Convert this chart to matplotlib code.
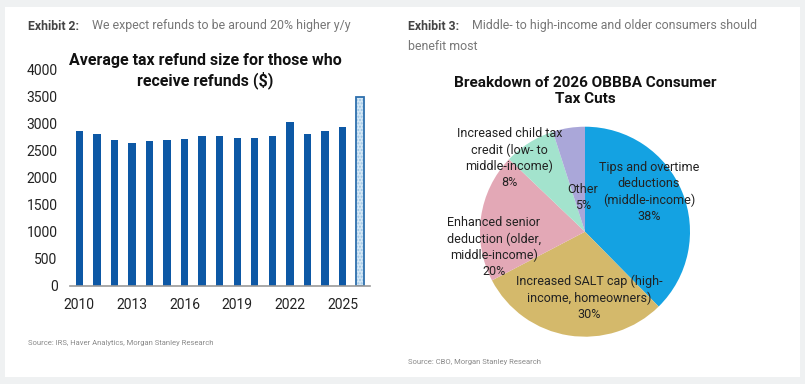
import matplotlib
matplotlib.use('Agg')
import matplotlib.pyplot as plt
from matplotlib.patches import Rectangle

# data
years = list(range(2010, 2027))
refunds = [2866, 2798, 2693, 2645, 2681, 2687, 2718, 2761, 2767, 2730, 2730, 2767, 3032, 2798, 2860, 2927, 3494]
year_ticks = [2010, 2013, 2016, 2019, 2022, 2025]
y_ticks = [0, 500, 1000, 1500, 2000, 2500, 3000, 3500, 4000]

pie_labels = ['Tips and overtime\ndeductions\n(middle-income)\n38%',
              'Increased SALT cap (high-\nincome, homeowners)\n30%',
              'Enhanced senior\ndeduction (older,\nmiddle-income)\n20%',
              'Increased child tax\ncredit (low- to\nmiddle-income)\n8%',
              'Other\n5%']
pie_shares = [38, 30, 20, 8, 5]
pie_colors = ['#14a2e2', '#d4b96b', '#e3a8b6', '#a3e3cd', '#aaa7d9']
label_pos = [(0.61, 0.38), (0.04, -0.63), (-0.87, -0.15), (-0.72, 0.70), (-0.02, 0.33)]

cond = ['Liberation Sans Narrow', 'Roboto', 'DejaVu Sans']
plain = ['Roboto', 'DejaVu Sans']

W, H = 805, 384
fig = plt.figure(figsize=(W / 100, H / 100), dpi=100)
fig.patch.set_facecolor('#eff1f2')
fig.patches.append(Rectangle((5 / W, 7 / H), 795 / W, 370 / H, transform=fig.transFigure,
                             facecolor='white', edgecolor='none', zorder=-5))

def px(x, y):
    return x / W, 1 - y / H

# headers
fig.text(*px(28, 26), 'Exhibit 2:', family=plain, weight='bold', fontsize=8.8, color='#444444', va='center')
fig.text(*px(92, 26), 'We expect refunds to be around 20% higher y/y', family=plain, fontsize=8.9,
         color='#777777', va='center')
fig.text(*px(408, 26), 'Exhibit 3:', family=plain, weight='bold', fontsize=8.8, color='#444444', va='center')
fig.text(*px(472, 26), 'Middle- to high-income and older consumers should', family=plain, fontsize=8.9,
         color='#777777', va='center')
fig.text(*px(408, 46), 'benefit most', family=plain, fontsize=8.9, color='#777777', va='center')
fig.text(*px(28, 343), 'Source: IRS, Haver Analytics, Morgan Stanley Research', family=cond, fontsize=5.5,
         color='#8a8a8a', va='center')
fig.text(*px(408, 362), 'Source: CBO, Morgan Stanley Research', family=cond, fontsize=5.5,
         color='#8a8a8a', va='center')

# bar chart
ax = fig.add_axes([70 / W, 1 - 285.7 / H, 300 / W, 216.4 / H])
ax.set_facecolor('none')
ax.bar(years[:-1], refunds[:-1], width=0.42, color='#0d58a5', zorder=2)
# forecast bar: light dotted fill with dark outline
ax.bar(years[-1:], refunds[-1:], width=0.42, color='#d4e7f5', edgecolor='#9cc6e6', hatch='.....',
       linewidth=0, zorder=2)
ax.bar(years[-1:], refunds[-1:], width=0.42, fill=False, edgecolor='#2d6fad', linewidth=1.3, zorder=3)
ax.set_xlim(2009.47, 2026.57)
ax.set_ylim(0, 4000)
ax.set_yticks(y_ticks)
ax.set_xticks(year_ticks)
for s in ['top', 'right', 'left']:
    ax.spines[s].set_visible(False)
ax.spines['bottom'].set_color('#9a9a9a')
ax.spines['bottom'].set_linewidth(1.2)
ax.spines['bottom'].set_zorder(4)
ax.tick_params(length=0, labelsize=10, colors='#222222')
ax.tick_params(axis='x', pad=9)
ax.tick_params(axis='y', pad=9)
for lbl in ax.get_xticklabels() + ax.get_yticklabels():
    lbl.set_family(cond)
fig.text(*px(205, 71), 'Average tax refund size for those who\nreceive refunds ($)', family=cond,
         weight='bold', fontsize=11.5, color='#111111', ha='center', va='center', linespacing=1.2)

# pie chart
r = 105
ax2 = fig.add_axes([(585 - 1.2 * r) / W, 1 - (231.7 + 1.2 * r) / H, 2.4 * r / W, 2.4 * r / H])
ax2.set_facecolor('none')
ax2.pie(pie_shares, colors=pie_colors, startangle=90, counterclock=False,
        wedgeprops=dict(linewidth=0))
ax2.set_xlim(-1.2, 1.2)
ax2.set_ylim(-1.2, 1.2)
ax2.set_aspect('equal')
for txt, (x, y) in zip(pie_labels, label_pos):
    ax2.text(x, y, txt, family=cond, fontsize=9.0, color='#222222', ha='center', va='center',
             linespacing=1.3)
fig.text(*px(585, 91), 'Breakdown of 2026 OBBBA Consumer\nTax Cuts', family=cond, weight='bold',
         fontsize=11, color='#111111', ha='center', va='center', linespacing=1.2)

fig.savefig('out.png', dpi=100)
